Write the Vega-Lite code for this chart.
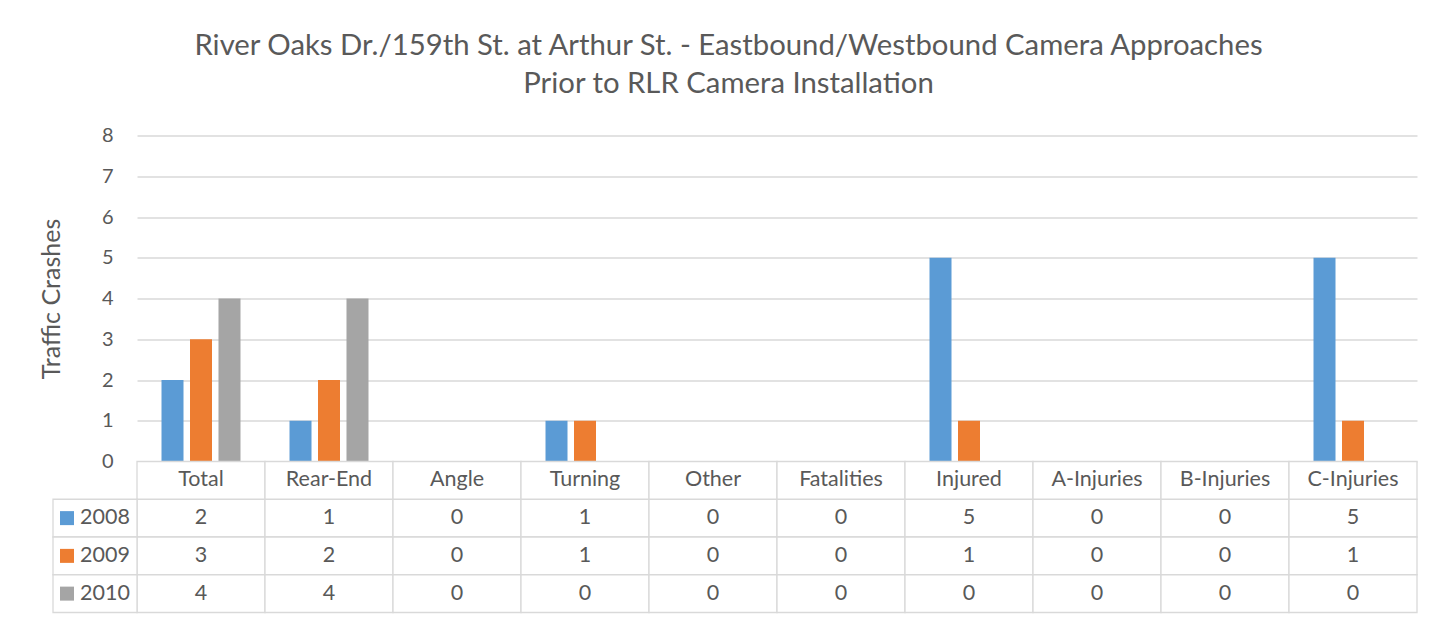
{
  "$schema": "https://vega.github.io/schema/vega-lite/v6.json",
  "padding": {"left": 39, "top": 31.5, "right": 30, "bottom": 5},
  "background": "white",
  "title": {
    "text": ["River Oaks Dr./159th St. at Arthur St. - Eastbound/Westbound Camera Approaches", "Prior to RLR Camera Installation"],
    "font": "Lato", "fontSize": 29.3, "fontWeight": "normal", "color": "#595959",
    "anchor": "middle", "lineHeight": 38, "offset": 26
  },
  "datasets": {
    "crashes": [
      {"category": "Total", "year": "2008", "crashes": 2},
      {"category": "Total", "year": "2009", "crashes": 3},
      {"category": "Total", "year": "2010", "crashes": 4},
      {"category": "Rear-End", "year": "2008", "crashes": 1},
      {"category": "Rear-End", "year": "2009", "crashes": 2},
      {"category": "Rear-End", "year": "2010", "crashes": 4},
      {"category": "Angle", "year": "2008", "crashes": 0},
      {"category": "Angle", "year": "2009", "crashes": 0},
      {"category": "Angle", "year": "2010", "crashes": 0},
      {"category": "Turning", "year": "2008", "crashes": 1},
      {"category": "Turning", "year": "2009", "crashes": 1},
      {"category": "Turning", "year": "2010", "crashes": 0},
      {"category": "Other", "year": "2008", "crashes": 0},
      {"category": "Other", "year": "2009", "crashes": 0},
      {"category": "Other", "year": "2010", "crashes": 0},
      {"category": "Fatalities", "year": "2008", "crashes": 0},
      {"category": "Fatalities", "year": "2009", "crashes": 0},
      {"category": "Fatalities", "year": "2010", "crashes": 0},
      {"category": "Injured", "year": "2008", "crashes": 5},
      {"category": "Injured", "year": "2009", "crashes": 1},
      {"category": "Injured", "year": "2010", "crashes": 0},
      {"category": "A-Injuries", "year": "2008", "crashes": 0},
      {"category": "A-Injuries", "year": "2009", "crashes": 0},
      {"category": "A-Injuries", "year": "2010", "crashes": 0},
      {"category": "B-Injuries", "year": "2008", "crashes": 0},
      {"category": "B-Injuries", "year": "2009", "crashes": 0},
      {"category": "B-Injuries", "year": "2010", "crashes": 0},
      {"category": "C-Injuries", "year": "2008", "crashes": 5},
      {"category": "C-Injuries", "year": "2009", "crashes": 1},
      {"category": "C-Injuries", "year": "2010", "crashes": 0}
    ]
  },
  "spacing": 0,
  "bounds": "flush",
  "vconcat": [
    {
      "width": 1280,
      "height": 326,
      "data": {"name": "crashes"},
      "mark": {"type": "bar"},
      "encoding": {
        "x": {
          "field": "category", "type": "nominal",
          "sort": ["Total", "Rear-End", "Angle", "Turning", "Other", "Fatalities", "Injured", "A-Injuries", "B-Injuries", "C-Injuries"],
          "scale": {"paddingInner": 0, "paddingOuter": 0},
          "axis": null
        },
        "xOffset": {
          "field": "year", "type": "nominal",
          "scale": {"paddingInner": 0.228, "paddingOuter": 0.86}
        },
        "y": {
          "field": "crashes", "type": "quantitative",
          "scale": {"domain": [0, 8], "nice": false},
          "axis": {
            "title": "Traffic Crashes", "values": [0, 1, 2, 3, 4, 5, 6, 7, 8],
            "grid": true, "gridColor": "#D9D9D9", "gridWidth": 1.3,
            "domain": false, "ticks": false, "labelPadding": 24,
            "titlePadding": 37, "titleFontSize": 25
          }
        },
        "color": {
          "field": "year", "type": "nominal",
          "scale": {"domain": ["2008", "2009", "2010"], "range": ["#5B9BD5", "#ED7D31", "#A5A5A5"]},
          "legend": null
        }
      }
    },
    {
      "width": 1280,
      "height": 151,
      "resolve": {"scale": {"x": "independent"}},
      "layer": [
        {
          "layer": [
            {
              "data": {"name": "crashes"},
              "mark": {"type": "rect", "fill": "white", "stroke": "#D9D9D9", "strokeWidth": 1.3},
              "encoding": {
                "x": {"field": "category", "type": "nominal",
                  "sort": ["Total", "Rear-End", "Angle", "Turning", "Other", "Fatalities", "Injured", "A-Injuries", "B-Injuries", "C-Injuries"],
                  "scale": {"paddingInner": 0, "paddingOuter": 0}, "axis": null},
                "y": {"field": "year", "type": "nominal",
                  "scale": {"domain": ["header", "2008", "2009", "2010"], "paddingInner": 0, "paddingOuter": 0}, "axis": null}
              }
            },
            {
              "data": {"name": "crashes"},
              "transform": [{"filter": "datum.year === '2008'"}],
              "mark": {"type": "rect", "fill": "white", "stroke": "#D9D9D9", "strokeWidth": 1.3},
              "encoding": {
                "x": {"field": "category", "type": "nominal",
                  "sort": ["Total", "Rear-End", "Angle", "Turning", "Other", "Fatalities", "Injured", "A-Injuries", "B-Injuries", "C-Injuries"]},
                "y": {"datum": "header", "type": "nominal"}
              }
            },
            {
              "data": {"name": "crashes"},
              "mark": {"type": "text", "font": "Lato", "fontSize": 21.5, "color": "#595959", "baseline": "middle"},
              "encoding": {
                "x": {"field": "category", "type": "nominal",
                  "sort": ["Total", "Rear-End", "Angle", "Turning", "Other", "Fatalities", "Injured", "A-Injuries", "B-Injuries", "C-Injuries"]},
                "y": {"field": "year", "type": "nominal"},
                "text": {"field": "crashes", "type": "quantitative"}
              }
            },
            {
              "data": {"name": "crashes"},
              "transform": [{"filter": "datum.year === '2008'"}],
              "mark": {"type": "text", "font": "Lato", "fontSize": 21.5, "color": "#595959", "baseline": "middle"},
              "encoding": {
                "x": {"field": "category", "type": "nominal",
                  "sort": ["Total", "Rear-End", "Angle", "Turning", "Other", "Fatalities", "Injured", "A-Injuries", "B-Injuries", "C-Injuries"]},
                "y": {"datum": "header", "type": "nominal"},
                "text": {"field": "category", "type": "nominal"}
              }
            }
          ]
        },
        {
          "data": {"name": "crashes"},
          "transform": [{"filter": "datum.category === 'Total'"}],
          "layer": [
            {
              "mark": {"type": "rect", "fill": "white", "stroke": "#D9D9D9", "strokeWidth": 1.3},
              "encoding": {
                "x": {"datum": "legend", "type": "nominal",
                  "scale": {"domain": ["legend"], "range": [-84, 0], "paddingInner": 0, "paddingOuter": 0}, "axis": null},
                "y": {"field": "year", "type": "nominal"}
              }
            },
            {
              "mark": {"type": "point", "shape": "square", "filled": true, "size": 196, "opacity": 1, "xOffset": -28},
              "encoding": {
                "x": {"datum": "legend", "type": "nominal"},
                "y": {"field": "year", "type": "nominal"},
                "color": {
                  "field": "year", "type": "nominal",
                  "scale": {"domain": ["2008", "2009", "2010"], "range": ["#5B9BD5", "#ED7D31", "#A5A5A5"]},
                  "legend": null
                }
              }
            },
            {
              "mark": {"type": "text", "font": "Lato", "fontSize": 21.5, "color": "#595959", "baseline": "middle", "align": "left", "dx": -15},
              "encoding": {
                "x": {"datum": "legend", "type": "nominal"},
                "y": {"field": "year", "type": "nominal"},
                "text": {"field": "year", "type": "nominal"}
              }
            }
          ]
        }
      ]
    }
  ],
  "config": {
    "font": "Lato",
    "view": {"stroke": null},
    "axis": {
      "labelFont": "Lato", "titleFont": "Lato",
      "labelColor": "#595959", "titleColor": "#595959",
      "labelFontSize": 20, "titleFontSize": 25, "titleFontWeight": "normal"
    }
  }
}
